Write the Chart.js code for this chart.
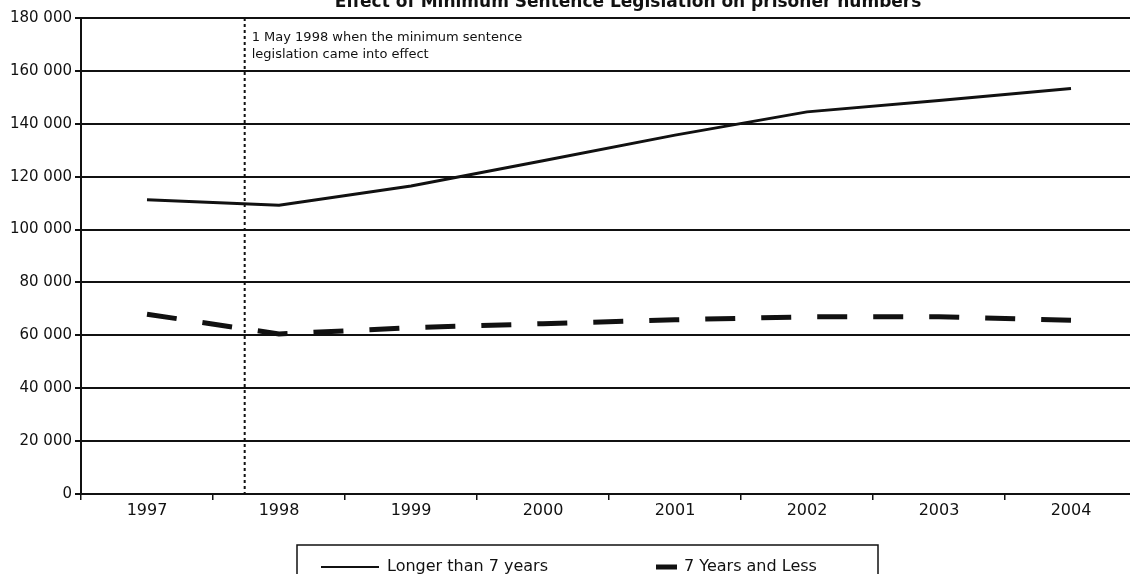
<!DOCTYPE html>
<html>
<head>
<meta charset="utf-8">
<script src="https://cdn.jsdelivr.net/npm/chart.js@4"></script>
<style>
  html, body { margin: 0; padding: 0; background: #fff; overflow: hidden; }
  #wrap { width: 1130px; height: 574px; overflow: hidden; position: relative; }
  canvas { position: absolute; left: 0; top: 0; }
</style>
</head>
<body>
<div id="wrap"><canvas id="chart" width="1160" height="574"></canvas></div>
<script>
const titleText = "Effect of Minimum Sentence Legislation on prisoner numbers";
const noteLines = ["1 May 1998 when the minimum sentence", "legislation came into effect"];

const years = ["1997", "1998", "1999", "2000", "2001", "2002", "2003", "2004"];
const longerThan7 = [111300, 109200, 116500, 126000, 135700, 144500, 148800, 153300];
const sevenAndLess = [68000, 60500, 62900, 64400, 65900, 67000, 67000, 65700];

// where the legislation marker sits, in category units from 1997
const lawStart = 0.74;

const ink = "#111";
const font = "DejaVu Sans";

function spaced(v) {
    return String(v).replace(/\B(?=(\d{3})+(?!\d))/g, " ");
}

// marker line, note, title and the boxed legend
const extras = {
    id: "extras",
    afterDraw(chart) {
        const { ctx, chartArea: a, scales: { x } } = chart;
        const step = x.getPixelForValue(1) - x.getPixelForValue(0);
        const mx = x.getPixelForValue(0) + lawStart * step;
        ctx.save();

        ctx.strokeStyle = ink;
        ctx.lineWidth = 2;
        ctx.setLineDash([3, 3]);
        ctx.beginPath();
        ctx.moveTo(mx, a.top);
        ctx.lineTo(mx, a.bottom);
        ctx.stroke();
        ctx.setLineDash([]);

        ctx.fillStyle = ink;
        ctx.font = "13px '" + font + "'";
        ctx.textBaseline = "middle";
        noteLines.forEach((t, i) => ctx.fillText(t, mx + 7, a.top + 20 + i * 17));

        ctx.font = "bold 17px '" + font + "'";
        ctx.textAlign = "center";
        ctx.textBaseline = "alphabetic";
        ctx.fillText(titleText, a.left + (a.right - a.left) * 0.518, 7);

        // legend
        const ly = 567;
        ctx.lineWidth = 1.5;
        ctx.strokeRect(297, 545, 581, 60);
        ctx.textAlign = "left";
        ctx.textBaseline = "middle";
        ctx.font = "16px '" + font + "'";
        const ds = chart.data.datasets;

        ctx.lineWidth = 2;
        ctx.beginPath();
        ctx.moveTo(321, ly);
        ctx.lineTo(379, ly);
        ctx.stroke();
        ctx.fillText(ds[0].label, 387, ly);

        ctx.lineWidth = ds[1].borderWidth;
        ctx.beginPath();
        ctx.moveTo(656, ly);
        ctx.lineTo(677, ly);
        ctx.stroke();
        ctx.fillText(ds[1].label, 684, ly);

        ctx.restore();
    }
};

new Chart(document.getElementById("chart"), {
    type: "line",
    data: {
        labels: years,
        datasets: [{
            label: "Longer than 7 years",
            data: longerThan7,
            borderColor: ink,
            borderWidth: 3,
            pointRadius: 0,
            tension: 0
        }, {
            label: "7 Years and Less",
            data: sevenAndLess,
            borderColor: ink,
            borderWidth: 5,
            borderDash: [30, 26],
            borderCapStyle: "butt",
            pointRadius: 0,
            tension: 0
        }]
    },
    options: {
        responsive: false,
        animation: false,
        layout: { padding: { left: 0, top: 18, right: 23, bottom: 50 } },
        plugins: {
            legend: { display: false },
            title: { display: false },
            tooltip: { enabled: false }
        },
        scales: {
            x: {
                offset: true,
                grid: { offset: true, drawOnChartArea: false, color: ink, lineWidth: 1.5, tickLength: 6 },
                border: { color: ink, width: 2 },
                ticks: { color: ink, font: { family: font, size: 16 }, padding: 1 },
                afterFit(scale) { scale.height = 30; }
            },
            y: {
                min: 0,
                max: 180000,
                grid: { color: ink, lineWidth: 2, tickLength: 6 },
                border: { color: ink, width: 2 },
                ticks: {
                    stepSize: 20000,
                    color: ink,
                    font: { family: font, size: 15 },
                    padding: 3,
                    callback: v => spaced(v)
                },
                afterFit(scale) { scale.width = 81; }
            }
        }
    },
    plugins: [extras]
});
</script>
</body>
</html>
